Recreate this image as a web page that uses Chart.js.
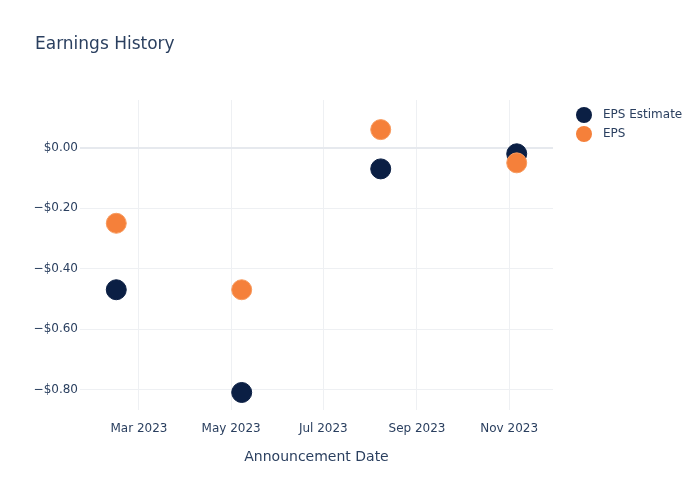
<!DOCTYPE html>
<html>
<head>
<meta charset="utf-8">
<script src="https://cdn.jsdelivr.net/npm/chart.js@4"></script>
<style>
  html, body { margin: 0; padding: 0; background: #fff; }
  #wrap { width: 700px; height: 500px; }
</style>
</head>
<body>
<div id="wrap"><canvas id="epsChart" width="700" height="500"></canvas></div>
<script>
// Data
const announceDates = ['2023-02-14', '2023-05-08', '2023-08-08', '2023-11-06'];
const epsEstimate = [-0.47, -0.81, -0.07, -0.02];
const epsActual = [-0.25, -0.47, 0.06, -0.05];
const xTickDates = ['2023-03-01', '2023-05-01', '2023-07-01', '2023-09-01', '2023-11-01'];
const xTickLabels = ['Mar 2023', 'May 2023', 'Jul 2023', 'Sep 2023', 'Nov 2023'];
const yTicks = [0, -0.2, -0.4, -0.6, -0.8];

const FONT = '"DejaVu Sans", Verdana, sans-serif';
const TEXT = '#2a3f5f';
const NAVY = '#0b1f44';
const ORANGE = '#f5803a';

const toMs = d => Date.parse(d + 'T00:00:00Z');

function money(v) {
    const s = '$' + Math.abs(v).toFixed(2);
    return v < -0.0001 ? '\u2212' + s : s;
}

// title and legend drawn at fixed spots, like the reference
const decorPlugin = {
    id: 'decor',
    afterDraw(chart) {
        const ctx = chart.ctx;
        ctx.save();
        ctx.fillStyle = TEXT;
        ctx.textBaseline = 'middle';
        ctx.font = '17px ' + FONT;
        ctx.fillText('Earnings History', 35, 45);

        ctx.font = '12px ' + FONT;
        chart.data.datasets.forEach((ds, i) => {
            const y = 115 + i * 19;
            ctx.beginPath();
            ctx.arc(584, y, 8, 0, Math.PI * 2);
            ctx.fillStyle = ds.backgroundColor;
            ctx.fill();
            ctx.fillStyle = TEXT;
            ctx.fillText(ds.label, 603, y);
        });
        ctx.restore();
    }
};

const ctx = document.getElementById('epsChart').getContext('2d');
const epsChart = new Chart(ctx, {
    type: 'scatter',
    data: {
        datasets: [{
            label: 'EPS Estimate',
            data: announceDates.map((d, i) => ({ x: toMs(d), y: epsEstimate[i] })),
            backgroundColor: NAVY,
            borderColor: NAVY,
            borderWidth: 1,
            pointRadius: 10,
            pointHoverRadius: 10,
            order: 2
        }, {
            label: 'EPS',
            data: announceDates.map((d, i) => ({ x: toMs(d), y: epsActual[i] })),
            backgroundColor: ORANGE,
            borderColor: '#f79a5e',
            borderWidth: 1,
            pointRadius: 10,
            pointHoverRadius: 10,
            order: 1
        }]
    },
    options: {
        responsive: false,
        animation: false,
        layout: { padding: { left: 0, top: 100, right: 147, bottom: 0 } },
        plugins: {
            legend: { display: false },
            tooltip: { enabled: false }
        },
        scales: {
            x: {
                type: 'linear',
                min: toMs('2023-01-21'),
                max: toMs('2023-11-30'),
                afterBuildTicks: scale => {
                    scale.ticks = xTickDates.map(d => ({ value: toMs(d) }));
                },
                afterFit: scale => { scale.height = 90; },
                border: { display: false },
                grid: { color: '#eef0f3', lineWidth: 1, drawTicks: false },
                ticks: {
                    padding: 12,
                    color: TEXT,
                    font: { family: FONT, size: 12 },
                    maxRotation: 0,
                    callback: (v, i) => xTickLabels[i]
                },
                title: {
                    display: true,
                    text: 'Announcement Date',
                    color: TEXT,
                    font: { family: FONT, size: 14 },
                    padding: { top: 10, bottom: 34 }
                }
            },
            y: {
                min: -0.868,
                max: 0.158,
                afterBuildTicks: scale => {
                    scale.ticks = yTicks.map(v => ({ value: v }));
                },
                afterFit: scale => { scale.width = 80; },
                border: { display: false },
                grid: {
                    drawTicks: false,
                    color: c => c.tick && c.tick.value === 0 ? '#e6e9ee' : '#eef0f3',
                    lineWidth: c => c.tick && c.tick.value === 0 ? 2 : 1
                },
                ticks: {
                    padding: 2,
                    color: TEXT,
                    font: { family: FONT, size: 12 },
                    callback: v => money(v)
                }
            }
        }
    },
    plugins: [decorPlugin]
});
</script>
</body>
</html>
